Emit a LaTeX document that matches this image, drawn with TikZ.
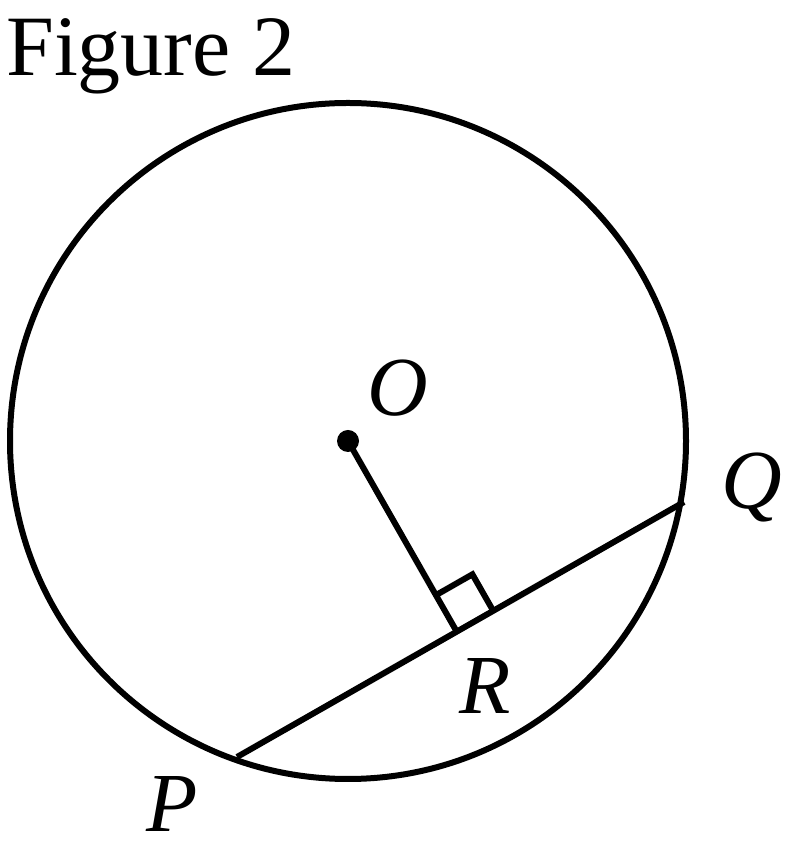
\documentclass[tikz,border=0pt]{standalone}
\usepackage{fontspec}
\setmainfont{Liberation Serif}
\usetikzlibrary{calc}
\tikzset{
	edge/.style= {
		line width=6pt,
		black
	},
	lbl/.style= {
		font={\fontsize{84}{90}\selectfont\itshape},
		inner sep=0
	},
}
\begin{document}
\begin{tikzpicture}[x=1pt,y=1pt]
		\useasboundingbox (0,0) rectangle (798,856);
		\node (title) [anchor=north west, inner sep=0, font={\fontsize{86}{96}\selectfont}] at (6,838) {Figure 2};

		\coordinate (O) at (348,415);
		\coordinate (P) at (237,99);
		\coordinate (Q) at (684,354);
		\coordinate (R) at ($(P)!(O)!(Q)$);

		\draw[edge] (O) circle (338);
		\draw[edge] (P) -- (Q);
		\draw[edge] (O) -- (R);
		\draw[edge] ($(R)!42pt!(Q)$) -- ($(R)!42pt!(Q)!42pt!90:(Q)$) -- ($(R)!42pt!(O)$);
		\fill (O) circle (11);

		\node (labO) [lbl] at (398,468) {O};
		\node (labQ) [lbl] at (752,368) {Q};
		\node (labR) [lbl] at (485,170) {R};
		\node (labP) [lbl] at (172,52) {P};
	\end{tikzpicture}
\end{document}
